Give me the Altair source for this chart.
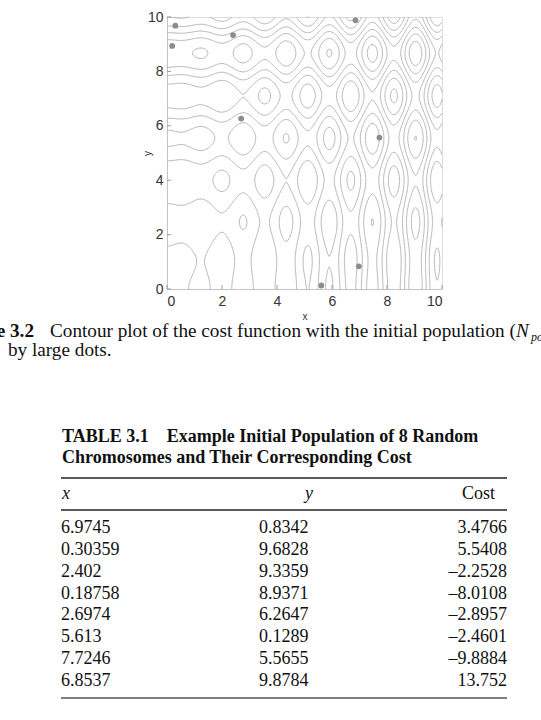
import numpy as np
import pandas as pd
import altair as alt

# ---------------- data ----------------
# Initial population (Table 3.1)
pop_x = [6.9745, 0.30359, 2.402, 0.18758, 2.6974, 5.613, 7.7246, 6.8537]
pop_y = [0.8342, 9.6828, 9.3359, 8.9371, 6.2647, 0.1289, 5.5655, 9.8784]
pop_cost = [3.4766, 5.5408, -2.2528, -8.0108, -2.8957, -2.4601, -9.8884, 13.752]

x_text = ["6.9745", "0.30359", "2.402", "0.18758", "2.6974", "5.613", "7.7246", "6.8537"]
y_text = ["0.8342", "9.6828", "9.3359", "8.9371", "6.2647", "0.1289", "5.5655", "9.8784"]
cost_text = ["3.4766", "5.5408", "\u20132.2528", "\u20138.0108", "\u20132.8957",
             "\u20132.4601", "\u20139.8884", "13.752"]
header_labels = ["x", "y", "Cost"]

table_title = ["TABLE 3.1\u2002\u2002Example Initial Population of 8 Random",
               "Chromosomes and Their Corresponding Cost"]
caption_label = "Figure 3.2"
caption_line1 = "Contour plot of the cost function with the initial population ("
caption_line2 = "by large dots."

# cost function of the figure: f(x, y) = x sin(4x) + a y sin(2y)
coef_x_freq = 4.0
coef_y_amp = 1.1
coef_y_freq = 2.0
contour_levels = [-15, -10, -5, 0, 5, 10, 15]
axis_ticks = [0, 2, 4, 6, 8, 10]
domain = [0, 10]
grid_n = 201


def cost(x, y):
    return x * np.sin(coef_x_freq * x) + coef_y_amp * y * np.sin(coef_y_freq * y)


gx = np.linspace(domain[0], domain[1], grid_n)
gy = np.linspace(domain[0], domain[1], grid_n)
XX, YY = np.meshgrid(gx, gy)
Z = cost(XX, YY)


def trace_level(L):
    above = Z > L
    pts = {}

    def edge_point(key):
        if key in pts:
            return pts[key]
        kind, i, j = key
        if kind == "h":
            z0, z1 = Z[j, i], Z[j, i + 1]
            t = (L - z0) / (z1 - z0)
            p = (gx[i] + t * (gx[i + 1] - gx[i]), gy[j])
        else:
            z0, z1 = Z[j, i], Z[j + 1, i]
            t = (L - z0) / (z1 - z0)
            p = (gx[i], gy[j] + t * (gy[j + 1] - gy[j]))
        pts[key] = p
        return p

    a00 = above[:-1, :-1]
    a10 = above[:-1, 1:]
    a11 = above[1:, 1:]
    a01 = above[1:, :-1]
    idx = a00.astype(int) + 2 * a10 + 4 * a11 + 8 * a01
    js, is_ = np.nonzero((idx != 0) & (idx != 15))
    segs = []
    for j, i in zip(js.tolist(), is_.tolist()):
        c00 = bool(above[j, i]); c10 = bool(above[j, i + 1])
        c11 = bool(above[j + 1, i + 1]); c01 = bool(above[j + 1, i])
        B = ("h", i, j); T = ("h", i, j + 1); Lf = ("v", i, j); R = ("v", i + 1, j)
        e = []
        if c00 != c10: e.append(B)
        if c10 != c11: e.append(R)
        if c01 != c11: e.append(T)
        if c00 != c01: e.append(Lf)
        if len(e) == 2:
            segs.append((e[0], e[1]))
        elif len(e) == 4:
            center = (Z[j, i] + Z[j, i + 1] + Z[j + 1, i + 1] + Z[j + 1, i]) / 4 > L
            if bool(center) == c00:
                segs.append((B, R)); segs.append((Lf, T))
            else:
                segs.append((B, Lf)); segs.append((R, T))

    adj = {}
    for k, (a, b) in enumerate(segs):
        adj.setdefault(a, []).append(k)
        adj.setdefault(b, []).append(k)
    used = [False] * len(segs)

    def walk(start_key, k0):
        path = [start_key]
        cur = start_key
        k = k0
        while k is not None and not used[k]:
            used[k] = True
            a, b = segs[k]
            nxt = b if a == cur else a
            path.append(nxt)
            cur = nxt
            k = None
            for kk in adj[cur]:
                if not used[kk]:
                    k = kk
                    break
        return path

    lines = []
    for key, ks in adj.items():
        if len(ks) == 1 and not used[ks[0]]:
            lines.append(walk(key, ks[0]))
    for k in range(len(segs)):
        if not used[k]:
            lines.append(walk(segs[k][0], k))
    return [[edge_point(key) for key in path] for path in lines]


rows = []
for L in contour_levels:
    for n, line in enumerate(trace_level(L)):
        lid = f"{L}_{n}"
        for o, (px, py) in enumerate(line):
            rows.append((lid, o, round(float(px), 4), round(float(py), 4)))
contour_df = pd.DataFrame(rows, columns=["line", "order", "x", "y"])
pop_df = pd.DataFrame({"x": pop_x, "y": pop_y, "cost": pop_cost})
tick_df = pd.DataFrame({"v": axis_ticks})
table_df = pd.DataFrame({"row": list(range(len(x_text))), "xs": x_text, "ys": y_text, "cs": cost_text})

# ---------------- layout ----------------
W, H = 541, 720
PL, PT, PW, PH = 167, 17, 275, 272
PR, PB = W - PL - PW, H - PT - PH

SERIF = "Liberation Serif"
SANS = "Liberation Sans"
INK = "#111111"

xs = alt.Scale(domain=domain, nice=False, zero=False)
ys = alt.Scale(domain=domain, nice=False, zero=False)

x_axis = alt.Axis(values=axis_ticks, ticks=False, grid=False, domainColor="#c4c4c4",
                  labelFont=SANS, labelFontSize=14, labelColor="#333333", labelPadding=5,
                  title="x", titleFont=SANS, titleFontSize=10, titleFontWeight="normal",
                  titleColor="#333333", titlePadding=3)
y_axis = alt.Axis(values=axis_ticks, ticks=False, grid=False, domainColor="#c4c4c4",
                  labelFont=SANS, labelFontSize=14, labelColor="#333333", labelPadding=4,
                  title="y", titleFont=SANS, titleFontSize=10, titleFontWeight="normal",
                  titleColor="#333333", titlePadding=-5)

lines = alt.Chart(contour_df).mark_line(color="#b0b0b0", strokeWidth=0.9).encode(
    x=alt.X("x:Q", scale=xs, axis=x_axis),
    y=alt.Y("y:Q", scale=ys, axis=y_axis),
    detail="line:N",
    order="order:Q",
)
dots = alt.Chart(pop_df).mark_circle(color="#8c8c8c", size=34, opacity=1).encode(
    x=alt.X("x:Q", scale=xs), y=alt.Y("y:Q", scale=ys)
)
yticks = alt.Chart(tick_df).mark_rule(color="#9a9a9a", strokeWidth=1).encode(
    y=alt.Y("v:Q", scale=ys), x=alt.value(0), x2=alt.value(4)
)
xticks = alt.Chart(tick_df).mark_rule(color="#9a9a9a", strokeWidth=1).encode(
    x=alt.X("v:Q", scale=xs), y=alt.value(PH), y2=alt.value(PH - 4)
)
plot = alt.layer(lines, xticks, yticks, dots)

# caption
base_txt = alt.Chart(pd.DataFrame({"k": [0]}))
CAP = 19.2
cap_label = base_txt.mark_text(font=SERIF, fontSize=CAP, fontWeight="bold", align="right",
                               baseline="middle", color=INK).encode(
    x=alt.value(34 - PL), y=alt.value(331 - PT), text=alt.value(caption_label))
cap1 = base_txt.mark_text(font=SERIF, fontSize=CAP, align="left", baseline="middle",
                          color=INK).encode(
    x=alt.value(50 - PL), y=alt.value(331 - PT), text=alt.value(caption_line1))
capN = base_txt.mark_text(font=SERIF, fontSize=CAP, fontStyle="italic", align="left",
                          baseline="middle", color=INK).encode(
    x=alt.value(516 - PL), y=alt.value(331 - PT), text=alt.value("N"))
capSub = base_txt.mark_text(font=SERIF, fontSize=12, fontStyle="italic", align="left",
                            baseline="middle", color=INK).encode(
    x=alt.value(531 - PL), y=alt.value(337 - PT), text=alt.value("pop = 8) indicated"))
cap2 = base_txt.mark_text(font=SERIF, fontSize=CAP, align="left", baseline="middle",
                          color=INK).encode(
    x=alt.value(8 - PL), y=alt.value(350 - PT), text=alt.value(caption_line2))

# table title
TT = 18
tt1 = base_txt.mark_text(font=SERIF, fontSize=TT, fontWeight="bold", align="left",
                         baseline="middle", color=INK).encode(
    x=alt.value(62 - PL), y=alt.value(437 - PT), text=alt.value(table_title[0]))
tt2 = base_txt.mark_text(font=SERIF, fontSize=TT, fontWeight="bold", align="left",
                         baseline="middle", color=INK).encode(
    x=alt.value(62 - PL), y=alt.value(458 - PT), text=alt.value(table_title[1]))


def hrule(ypix, color="#222222", w=1.4):
    return base_txt.mark_rule(color=color, strokeWidth=w).encode(
        x=alt.value(61 - PL), x2=alt.value(507 - PL), y=alt.value(ypix - PT))


r_top = hrule(478)
r_mid = hrule(510)
r_bot = hrule(698, color="#555555")

TB = 18
hx = base_txt.mark_text(font=SERIF, fontSize=TB, fontStyle="italic", align="left",
                        baseline="middle", color=INK).encode(
    x=alt.value(62 - PL), y=alt.value(494 - PT), text=alt.value(header_labels[0]))
hy = base_txt.mark_text(font=SERIF, fontSize=TB, fontStyle="italic", align="right",
                        baseline="middle", color=INK).encode(
    x=alt.value(313 - PL), y=alt.value(494 - PT), text=alt.value(header_labels[1]))
hc = base_txt.mark_text(font=SERIF, fontSize=TB, align="right",
                        baseline="middle", color=INK).encode(
    x=alt.value(495 - PL), y=alt.value(494 - PT), text=alt.value(header_labels[2]))

row_scale = alt.Scale(domain=[0, len(x_text) - 1], range=[528 - PT, 681 - PT], nice=False, zero=False)
tbase = alt.Chart(table_df)
cx = tbase.mark_text(font=SERIF, fontSize=TB, align="left", baseline="middle", color=INK).encode(
    x=alt.value(61 - PL), y=alt.Y("row:Q", scale=row_scale, axis=None), text="xs:N")
cy = tbase.mark_text(font=SERIF, fontSize=TB, align="left", baseline="middle", color=INK).encode(
    x=alt.value(259 - PL), y=alt.Y("row:Q", scale=row_scale, axis=None), text="ys:N")
cc = tbase.mark_text(font=SERIF, fontSize=TB, align="right", baseline="middle", color=INK).encode(
    x=alt.value(507 - PL), y=alt.Y("row:Q", scale=row_scale, axis=None), text="cs:N")
table = alt.layer(cx, cy, cc)

chart = alt.layer(
    plot, cap_label, cap1, capN, capSub, cap2, tt1, tt2, r_top, r_mid, r_bot, hx, hy, hc, table
).resolve_scale(x="independent", y="independent").properties(
    width=PW, height=PH,
    autosize=alt.AutoSizeParams(type="none"),
    padding={"left": PL, "top": PT, "right": PR, "bottom": PB},
).configure_view(stroke="#c4c4c4", strokeWidth=1).configure(background="white")

chart.save("out.html", embed_options={"renderer": "svg", "actions": False})
